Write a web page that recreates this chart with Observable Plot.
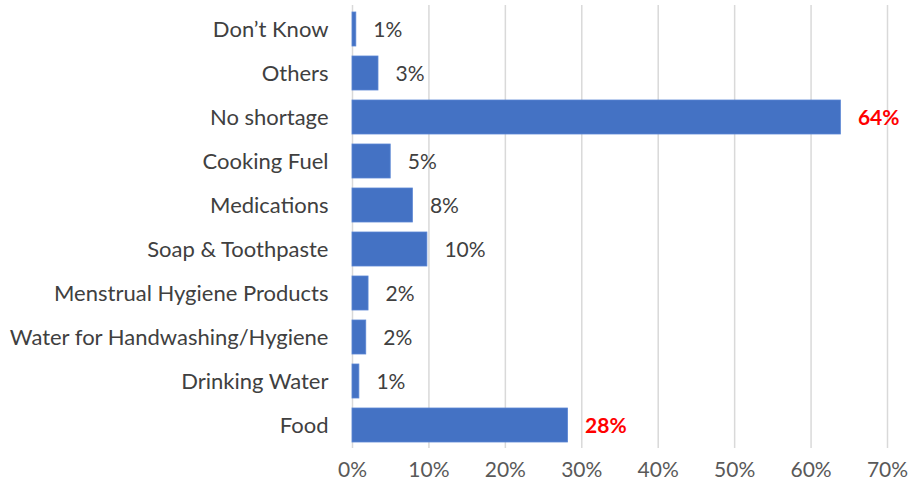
<!DOCTYPE html>
<html>
<head>
<meta charset="utf-8">
<script src="https://cdn.jsdelivr.net/npm/d3@7"></script>
<script src="https://cdn.jsdelivr.net/npm/@observablehq/plot@0.6"></script>
<style>
  html, body { margin: 0; padding: 0; background: #fff; }
</style>
</head>
<body>
<div id="chart"></div>
<script>
const categories = [
  "Don’t Know",
  "Others",
  "No shortage",
  "Cooking Fuel",
  "Medications",
  "Soap & Toothpaste",
  "Menstrual Hygiene Products",
  "Water for Handwashing/Hygiene",
  "Drinking Water",
  "Food"
];
const values = [0.5, 3.4, 63.9, 5.0, 7.9, 9.8, 2.1, 1.8, 0.9, 28.2];
const labels = ["1%", "3%", "64%", "5%", "8%", "10%", "2%", "2%", "1%", "28%"];
const highlighted = [false, false, true, false, false, false, false, false, false, true];
const xTicks = [0, 10, 20, 30, 40, 50, 60, 70];

const data = categories.map((c, i) => ({
  category: c, value: values[i], label: labels[i], hi: highlighted[i]
}));

const chart = Plot.plot({
  width: 917,
  height: 493,
  marginLeft: 352,
  marginRight: 30,
  marginTop: 5,
  marginBottom: 45,
  style: { fontFamily: "Lato, sans-serif", fontSize: "21px", background: "#fff" },
  x: { domain: [0, 70], ticks: xTicks, tickFormat: d => d + "%", label: null },
  y: { domain: categories, label: null, paddingInner: 0.23, paddingOuter: 0.115 },
  marks: [
    Plot.ruleX(xTicks, { stroke: "#d9d9d9", strokeWidth: 1.5 }),
    Plot.barX(data, { y: "category", x: "value", fill: "#4472C4", stroke: "#5a86d4", strokeWidth: 0.8 }),
    Plot.text(data.filter(d => !d.hi), {
      y: "category", x: "value", text: "label", dx: 17, dy: 1,
      textAnchor: "start", fill: "#404040", fontSize: 21
    }),
    Plot.text(data.filter(d => d.hi), {
      y: "category", x: "value", text: "label", dx: 17, dy: 1,
      textAnchor: "start", fill: "#ff0000", fontSize: 21, fontWeight: "bold"
    }),
    Plot.axisY({ tickSize: 0, tickPadding: 24, fontSize: 22, color: "#404040", label: null }),
    Plot.axisX({ ticks: xTicks, tickFormat: d => d + "%", tickSize: 0, tickPadding: 14, fontSize: 21, color: "#595959", label: null })
  ]
});
document.getElementById("chart").appendChild(chart);
</script>
</body>
</html>
